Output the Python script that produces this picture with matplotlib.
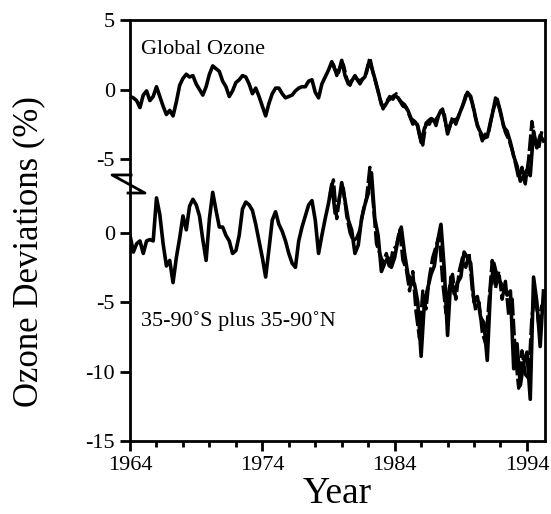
import numpy as np
import matplotlib
matplotlib.use("Agg")
import matplotlib.pyplot as plt
from matplotlib.ticker import MultipleLocator

plt.rcParams['font.family'] = ['Liberation Serif', 'DejaVu Serif']

# quarterly ozone deviations (%), ground-based record starting 1964.0
START_YEAR = 1964.0
STEP = 0.25

global_ozone = [
    -0.5, -0.6, -0.8, -1.3, -0.4, -0.1, -0.8, -0.5, 0.2, -0.5,
    -1.2, -1.8, -1.5, -1.9, -0.9, 0.3, 0.8, 1.1, 0.9, 1.0,
    0.4, 0.0, -0.4, 0.2, 1.1, 1.7, 1.5, 1.3, 0.6, 0.2,
    -0.5, -0.1, 0.5, 0.7, 1.0, 0.9, 0.4, -0.3, 0.1, -0.5,
    -1.2, -1.9, -1.0, -0.3, 0.1, 0.1, -0.3, -0.6, -0.5, -0.4,
    -0.1, 0.1, 0.2, 0.2, 0.6, 0.7, -0.2, -0.6, 0.4, 0.9,
    1.4, 2.0, 1.4, 1.2, 2.1, 1.0, 0.4, 0.6, 1.0, 0.6,
    0.7, 0.9, 1.8, 1.6, 0.8, -0.1, -1.1, -1.2, -0.8, -0.6,
    -0.4, -0.6, -0.9, -1.1, -1.5, -2.1, -2.3, -2.6, -3.8, -2.8,
    -2.3, -2.1, -2.3, -2.0, -1.5, -1.8, -3.2, -2.4, -2.2, -2.1,
    -1.5, -0.9, -0.2, -0.5, -1.5, -2.6, -3.1, -3.5, -3.4, -2.3,
    -1.3, -0.7, -1.6, -2.7, -3.0, -3.8, -4.8, -5.5, -6.6, -6.2,
    -5.8, -6.2, -3.0, -4.2, -3.3, -3.7,
]

midlat_ozone = [
    -0.2, -1.4, -0.8, -0.6, -1.5, -0.6, -0.5, -0.6, 2.5, 1.3,
    -0.8, -2.4, -2.0, -3.6, -1.8, -0.4, 1.2, 0.2, 1.9, 2.4,
    2.0, 1.2, -0.5, -2.0, 1.0, 2.9, 1.6, 0.4, 0.4, -0.2,
    -0.6, -1.5, -1.3, -0.2, 1.7, 2.2, 2.0, 1.6, 0.6, -0.6,
    -1.8, -3.2, -1.2, 0.9, 1.5, 0.6, 0.1, -0.6, -1.5, -2.2,
    -2.5, -0.6, 0.4, 1.2, 2.0, 2.3, 0.9, -1.5, -0.2, 1.0,
    2.1, 3.5, 1.4, 2.0, 3.6, 2.3, 0.9, 0.2, -1.5, -0.9,
    1.0, 2.0, 2.8, 4.3, 1.0, -0.2, -2.8, -2.2, -1.8, -2.5,
    -1.8, -0.5, 0.4, -1.5, -3.0, -3.4, -3.7, -5.0, -8.9, -5.0,
    -4.0, -3.0, -2.4, -0.6, 0.6, -2.6, -7.4, -3.2, -4.4, -3.6,
    -3.2, -1.4, -1.8, -2.2, -5.0, -4.6, -6.1, -6.5, -9.2, -4.0,
    -2.2, -3.2, -3.6, -3.9, -4.5, -4.2, -9.8, -8.0, -11.0, -9.4,
    -8.6, -12.0, -3.2, -5.0, -8.2, -4.2,
]

# satellite record (dashed), quarterly from 1979.125
SAT_START = 1979.125

global_sat = [
    1.7, 1.8, 1.0, 1.6, 1.8, 0.8, 0.3, 0.9, 0.8, 0.4,
    0.8, 1.2, 2.3, 1.2, 0.3, -0.6, -1.4, -0.9, -0.5, -0.7,
    -0.3, -0.8, -1.2, -1.3, -1.9, -2.5, -2.2, -3.3, -4.0, -2.4,
    -2.5, -2.0, -2.6, -1.7, -1.4, -2.6, -2.8, -2.0, -2.5, -1.8,
    -1.2, -0.4, -0.3, -1.0, -2.1, -2.9, -3.7, -3.2, -3.0, -1.8,
    -0.6, -1.2, -2.2, -3.1, -3.6, -4.3, -5.3, -6.4, -5.6, -6.8,
    -5.0, -2.3, -3.8, -4.3, -3.0,
]

midlat_sat = [
    2.8, 3.8, 1.0, 2.9, 3.2, 1.2, 0.0, -0.6, -0.4, 0.2,
    1.6, 2.5, 4.7, 2.2, -0.8, -1.5, -2.2, -1.5, -2.6, -1.2,
    -1.0, 0.2, -2.0, -2.6, -4.2, -2.8, -5.8, -7.6, -4.2, -5.5,
    -3.2, -1.8, -1.0, -0.2, -3.5, -5.8, -4.0, -3.0, -4.8, -2.8,
    -1.8, -2.5, -1.5, -4.2, -5.6, -5.0, -7.2, -8.0, -5.0, -2.0,
    -4.0, -2.8, -4.8, -3.5, -6.0, -4.6, -8.8, -11.2, -8.5, -10.2,
    -10.5, -6.0, -4.5, -6.5, -5.2,
]

# lower curves are shifted down so both share one frame
OFFSET = 10.3
top_ticks = [5, 0, -5]
bottom_ticks = [0, -5, -10, -15]
year_ticks = [1964, 1974, 1984, 1994]

years = START_YEAR + STEP * np.arange(len(global_ozone))
sat_years = SAT_START + STEP * np.arange(len(global_sat))

fig = plt.figure(figsize=(5.51, 5.14), dpi=100)
ax = fig.add_axes([0.236, 0.142, 0.753, 0.819])

line_kw = dict(color='black', lw=2.6, solid_joinstyle='round')
dash_kw = dict(color='black', lw=2.4, dashes=(5, 1), dash_joinstyle='round')

ax.plot(years, global_ozone, **line_kw)
ax.plot(years, np.array(midlat_ozone) - OFFSET, **line_kw)
ax.plot(sat_years, global_sat, **dash_kw)
ax.plot(sat_years, np.array(midlat_sat) - OFFSET, **dash_kw)

ax.set_xlim(1964, 1995.36)
ax.set_ylim(-15 - OFFSET, 5)

yt = top_ticks + [v - OFFSET for v in bottom_ticks]
ax.set_yticks(yt)
ax.set_yticklabels([str(v) for v in top_ticks + bottom_ticks])
ax.set_xticks(year_ticks)
ax.xaxis.set_minor_locator(MultipleLocator(2))

for s in ax.spines.values():
    s.set_linewidth(2)
ax.tick_params(axis='both', which='major', direction='out', length=7, width=2,
               labelsize=16, pad=4)
ax.tick_params(axis='x', which='minor', direction='out', length=4, width=2)

# axis break mark on the left spine
ax.plot([1964.08, 1962.64, 1965.13, 1963.85], [-6.15, -6.15, -7.45, -7.45],
        color='black', lw=2, clip_on=False)

ax.text(1964.8, 2.9, 'Global Ozone', fontsize=16, va='center', ha='left')
ax.text(1964.8, -6.4 - OFFSET, '35-90\u02daS plus 35-90\u02daN', fontsize=16,
        va='center', ha='left')

ax.set_xlabel('Year', fontsize=27, labelpad=1)
ax.set_ylabel('Ozone Deviations (%)', fontsize=25)
ax.yaxis.set_label_coords(-0.205, 0.45)

fig.savefig('out.png', dpi=100)
